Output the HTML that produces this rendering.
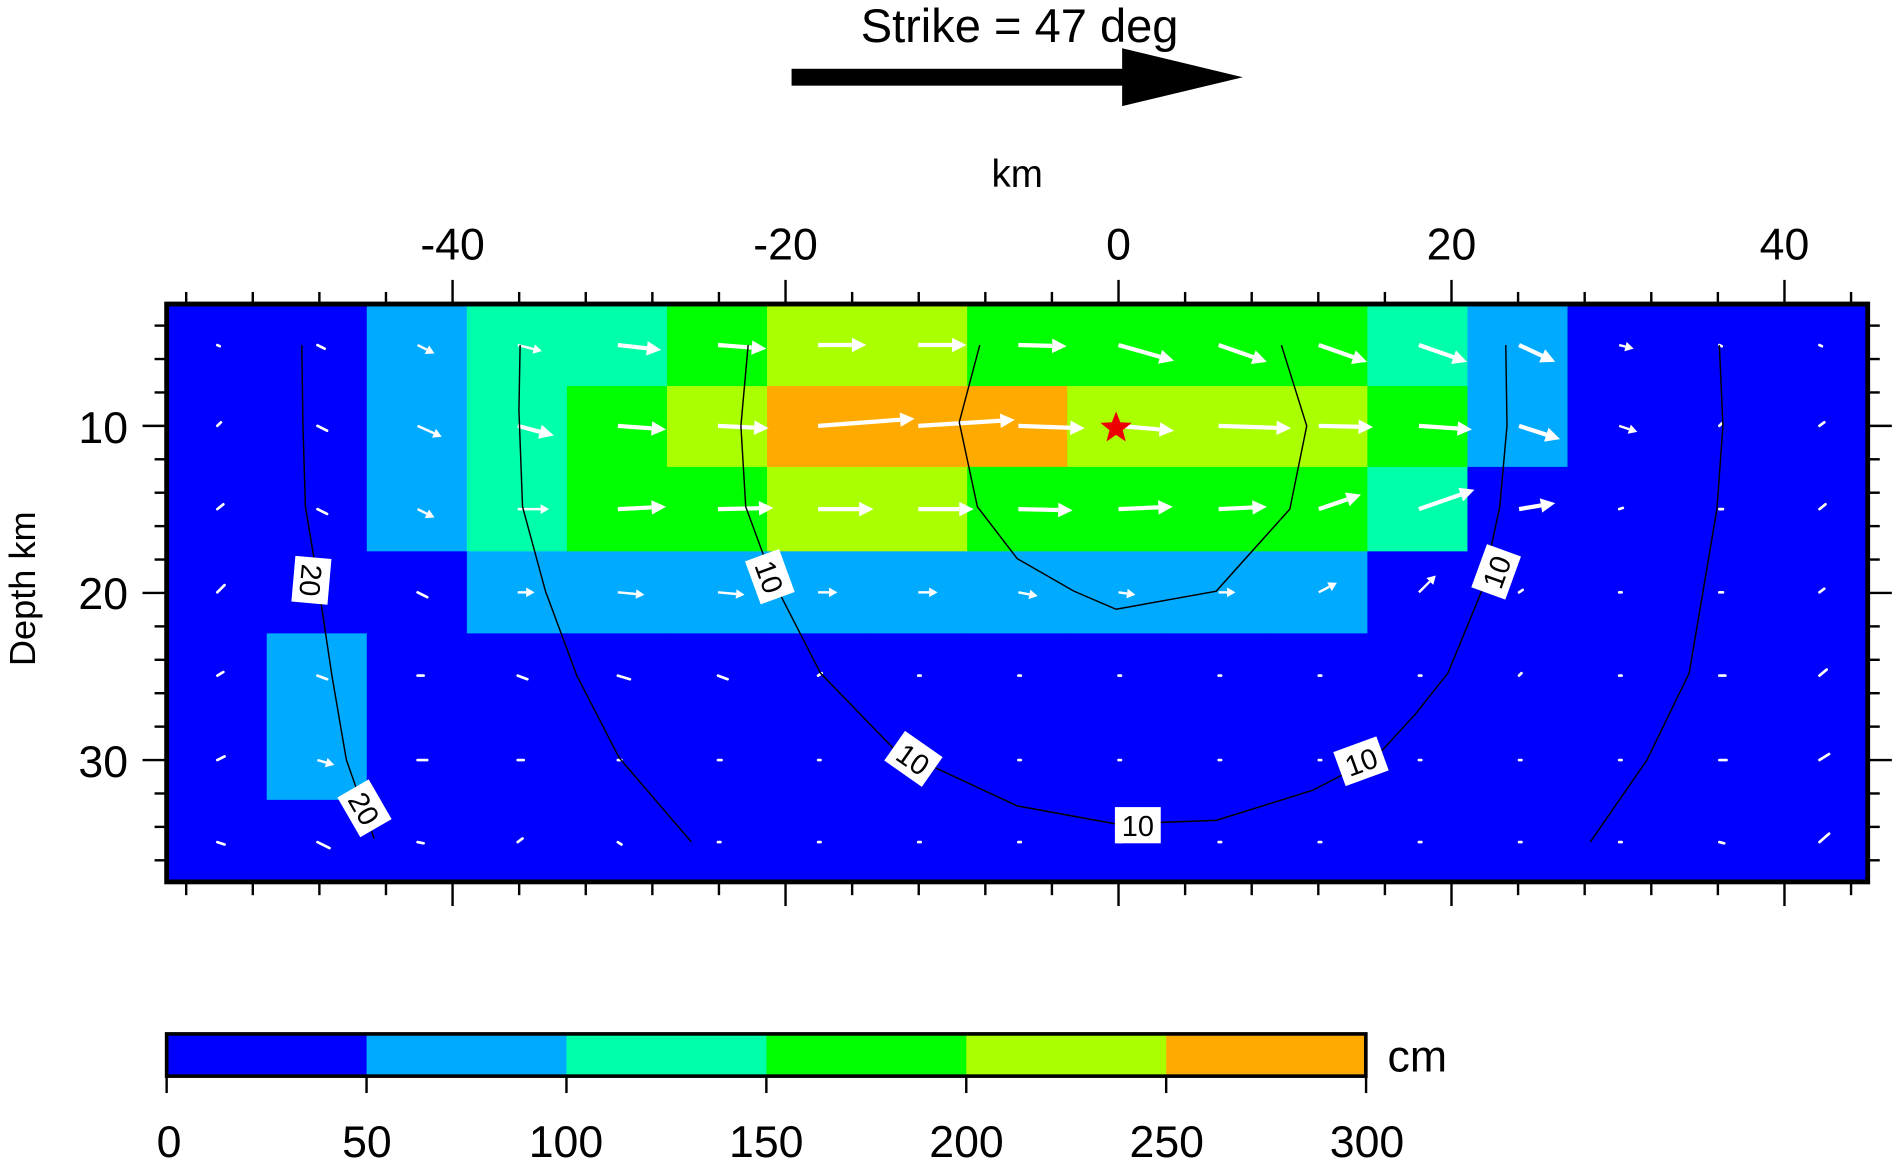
<!DOCTYPE html>
<html><head><meta charset="utf-8"><style>
html,body{margin:0;padding:0;background:#fff;}
svg{display:block;font-family:"Liberation Sans",Arial,sans-serif;}
</style></head><body>
<svg id="s" width="1892" height="1163" viewBox="0 0 1568 964" xmlns="http://www.w3.org/2000/svg">
<rect width="1568" height="964" fill="#fff"/>
<text x="845" y="35" font-size="39" text-anchor="middle">Strike = 47 deg</text>
<rect x="656" y="57" width="276" height="14" fill="#000"/>
<polygon points="930,40 1030,64 930,88" fill="#000"/>
<text x="843" y="155" font-size="32" text-anchor="middle">km</text>
<g font-size="37" text-anchor="middle">
<text x="375" y="215">-40</text><text x="651" y="215">-20</text><text x="927" y="215">0</text><text x="1203" y="215">20</text><text x="1479" y="215">40</text>
</g>
<g font-size="37" text-anchor="end">
<text x="106" y="367">10</text><text x="106" y="505">20</text><text x="106" y="644">30</text>
</g>
<text transform="translate(29,488) rotate(-90)" font-size="30" text-anchor="middle">Depth km</text>
<g id="cells"></g>
<g id="arrows"></g>
<g id="ticks" stroke="#000" stroke-width="2"></g>
<g fill="none" stroke="#000" stroke-width="1.2">
<polyline points="250,286 251,353 253,420 263,480 275,560 287,630 310,695"/>
<polyline points="431,286 430,340 433,420 452,490 478,560 513,628 573,698"/>
<polyline points="620,286 614,353 618,420 640,480 680,558 740,620 843,668 925,683 1008,680 1088,655 1140,628 1173,592 1200,558 1228,490 1243,420 1249,353 1248,286"/>
<polyline points="812,286 795,350 810,420 843,463 890,490 925,505 1008,490 1069,422 1083,353 1062,286"/>
<polyline points="1425,286 1428,353 1423,422 1400,558 1365,630 1318,698"/>
</g>
<g font-size="24" text-anchor="middle">
<g transform="translate(258,481) rotate(95)"><rect x="-19" y="-15" width="38" height="30" fill="#fff"/><text y="9">20</text></g>
<g transform="translate(302,670) rotate(60)"><rect x="-19" y="-15" width="38" height="30" fill="#fff"/><text y="9">20</text></g>
<g transform="translate(638,478) rotate(70)"><rect x="-19" y="-15" width="38" height="30" fill="#fff"/><text y="9">10</text></g>
<g transform="translate(757,629) rotate(35)"><rect x="-19" y="-15" width="38" height="30" fill="#fff"/><text y="9">10</text></g>
<g transform="translate(943,684)"><rect x="-19" y="-15" width="38" height="30" fill="#fff"/><text y="9">10</text></g>
<g transform="translate(1128,631) rotate(-20)"><rect x="-19" y="-15" width="38" height="30" fill="#fff"/><text y="9">10</text></g>
<g transform="translate(1240,474) rotate(-70)"><rect x="-19" y="-15" width="38" height="30" fill="#fff"/><text y="9">10</text></g>
</g>
<polygon points="925,341 928.5,350 938,350.5 930.5,356.5 933,366 925,360.5 917,366 919.5,356.5 912,350.5 921.5,350" fill="#e00"/>
<rect x="138" y="252" width="1410" height="479" fill="none" stroke="#000" stroke-width="4"/>
<g id="cb"></g>
<rect x="138" y="857" width="994" height="35" fill="none" stroke="#000" stroke-width="3"/>
<text x="1150" y="888" font-size="37">cm</text>
<g font-size="37" text-anchor="middle">
<text x="140" y="959">0</text><text x="304" y="959">50</text><text x="469" y="959">100</text><text x="635" y="959">150</text><text x="801" y="959">200</text><text x="967" y="959">250</text><text x="1133" y="959">300</text>
</g>
<script>
var NS="http://www.w3.org/2000/svg";
function el(p,t,a){var e=document.createElementNS(NS,t);for(var k in a)e.setAttribute(k,a[k]);p.appendChild(e);return e;}
var C={B:"#0000ff",L:"#00aaff",A:"#00ffaa",G:"#00ff00",Y:"#aaff00",O:"#ffaa00"};
var grid=["BBLAAGYYGGGGALBBB","BBLAGYOOOYYYGLBBB","BBLAGGYYGGGGABBBB","BBBLLLLLLLLLBBBBB","BLBBBBBBBBBBBBBBB","BLBBBBBBBBBBBBBBB","BBBBBBBBBBBBBBBBB"];
var rowY=[252,320,387,457,525,594,663,731];
var cg=document.getElementById("cells");
for(var r=0;r<7;r++)for(var c=0;c<17;c++){el(cg,"rect",{x:138+c*82.94,y:rowY[r],width:83.5,height:rowY[r+1]-rowY[r]+0.5,fill:C[grid[r][c]]});}
var A=[
[[2,1],[6,3],[14,7],[20,5],[36,4],[40,3],[40,0],[40,0],[40,1],[46,13],[40,14],[40,14],[40,14],[30,14],[12,3],[2,1],[2,1]],
[[3,-3],[8,4],[20,9],[30,8],[40,3],[42,2],[80,-6],[80,-5],[55,2],[46,4],[60,2],[45,1],[44,3],[34,11],[15,5],[2,-2],[4,-3]],
[[5,-4],[8,4],[14,7],[26,0],[40,-2],[46,-1],[46,0],[46,0],[45,1],[45,-2],[40,-2],[35,-12],[46,-16],[30,-5],[3,-1],[3,0],[5,-4]],
[[6,-6],[5,3],[8,4],[14,0],[22,2],[22,2],[16,0],[16,0],[16,3],[14,2],[14,0],[15,-8],[14,-14],[3,-2],[2,0],[3,0],[4,-3]],
[[5,-3],[8,3],[5,0],[8,3],[10,3],[8,3],[3,-2],[2,0],[2,0],[2,0],[2,0],[2,0],[2,0],[2,-2],[2,0],[5,0],[6,-5]],
[[6,-3],[14,4],[8,0],[5,0],[3,0],[3,0],[2,0],[2,0],[2,0],[2,0],[2,0],[2,0],[2,0],[2,0],[2,0],[6,0],[8,-5]],
[[6,2],[10,5],[5,1],[4,-3],[3,2],[2,0],[2,0],[2,0],[2,0],[2,0],[2,0],[2,0],[2,0],[2,0],[2,0],[4,1],[8,-7]]];
var ay=[286,353,422,491,560,630,698];
var ag=document.getElementById("arrows");
for(var r=0;r<7;r++)for(var c=0;c<17;c++){
 var d=A[r][c],x=180+c*83,y=ay[r],L=Math.hypot(d[0],d[1]);
 if(L<12){el(ag,"line",{x1:x,y1:y,x2:x+d[0],y2:y+d[1],stroke:"#fff","stroke-width":2.2,"stroke-linecap":"round"});continue;}
 var ux=d[0]/L,uy=d[1]/L,w=L>30?3.5:2,h=L>30?12:7,hw=L>30?6:4;
 var bx=x+d[0]-ux*h,by=y+d[1]-uy*h;
 el(ag,"line",{x1:x,y1:y,x2:bx,y2:by,stroke:"#fff","stroke-width":w});
 el(ag,"polygon",{points:(x+d[0])+","+(y+d[1])+" "+(bx-uy*hw)+","+(by+ux*hw)+" "+(bx+uy*hw)+","+(by-ux*hw),fill:"#fff"});
}
var tg=document.getElementById("ticks");
for(var k=-56;k<=44;k+=4){var x=927+k*13.8,maj=(k%20==0);
 el(tg,"line",{x1:x,y1:252,x2:x,y2:maj?232:242});el(tg,"line",{x1:x,y1:731,x2:x,y2:maj?751:742});}
for(var k=4;k<=36;k+=2){var y=353+(k-10)*13.85,maj=(k%10==0);
 el(tg,"line",{x1:138,y1:y,x2:maj?118:128,y2:y});el(tg,"line",{x1:1548,y1:y,x2:maj?1568:1558,y2:y});}
var cb=document.getElementById("cb"),cc=["B","L","A","G","Y","O"];
for(var i=0;i<6;i++){el(cb,"rect",{x:138+i*165.7,y:857,width:166.2,height:35,fill:C[cc[i]]});
}
for(var i=0;i<=6;i++){el(cb,"line",{x1:138+i*165.7,y1:892,x2:138+i*165.7,y2:906,stroke:"#000","stroke-width":2});}
</script>
</svg>
</body></html>
